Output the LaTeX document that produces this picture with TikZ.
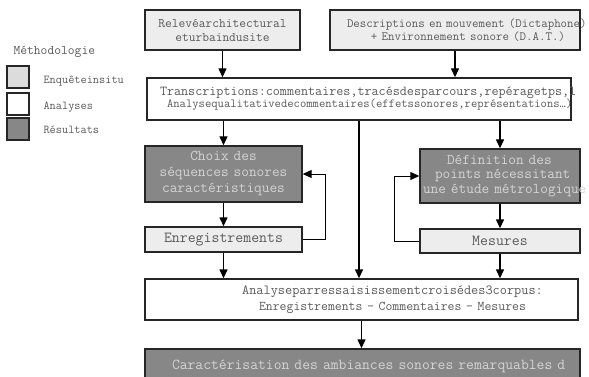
\documentclass[tikz,border=0pt]{standalone}
\usetikzlibrary{arrows.meta}

\definecolor{enquete}{HTML}{EDEDED}
\definecolor{legende}{HTML}{DCDCDC}
\definecolor{resultat}{HTML}{878787}
\definecolor{encre}{HTML}{5A5A5A}
\definecolor{pale}{HTML}{D4D4D4}

\begin{document}
\begin{tikzpicture}[x = 1pt, y = -1pt,
	boite/.style = {draw = black!85, line width = 1.4pt, inner sep = 3pt,
					align = center, text = encre},
	enq/.style = {boite, fill = enquete},
	ana/.style = {boite, fill = white},
	res/.style = {boite, fill = resultat, text = pale},
	mono/.style = {font = \fontsize{#1}{#1}\selectfont\ttfamily},
	fleche/.style = {-{Triangle[length = 9pt, width = 8pt]}, line width = 1.4pt},
	retour/.style = {fleche, line width = 1pt}]

\useasboundingbox (0, 0) rectangle (589, 377);
\clip (0, 0) rectangle (589, 377);

% legende
\node[anchor = west, text = encre, mono = 13.2] (titre) at (10, 52) {Méthodologie};
\node[boite, fill = legende, minimum width = 22, minimum height = 22] (lenq) at (18, 77) {};
\node[boite, fill = white, minimum width = 22, minimum height = 22] (lana) at (18, 104) {};
\node[boite, fill = resultat, minimum width = 22, minimum height = 22] (lres) at (18, 129) {};
\node[anchor = west, text = encre, mono = 12] (tenq) at (40, 81) {Enquêteinsitu};
\node[anchor = west, text = encre, mono = 12] (tana) at (40, 107) {Analyses};
\node[anchor = west, text = encre, mono = 12] (tres) at (40, 130) {Résultats};

% boites
\node[enq, text width = 149, minimum height = 40, font = \fontsize{13.1}{14}\selectfont\ttfamily]
	(releve) at (222.5, 30) {Relevéarchitectural\\eturbaindusite};
\node[enq, text width = 244, minimum height = 40, font = \fontsize{12.6}{13.5}\selectfont\ttfamily]
	(descr) at (455, 30) {\hspace*{14pt}\mbox{Descriptions en mouvement (Dictaphone)}\\
						  \hspace*{26pt}+ Environnement sonore (D.A.T.)};
\node[ana, align = left, text width = 418, minimum height = 42, font = \fontsize{13.7}{12}\selectfont\ttfamily]
	(trans) at (359, 99) {\hspace*{10pt}\mbox{Transcriptions:commentaires,tracésdesparcours,repéragetps,l}\\
						  \hspace*{17pt}\mbox{\fontsize{12.3}{12}\selectfont Analysequalitativedecommentaires(effetssonores,représentations…)}};

\node[res, text width = 151, minimum height = 56, font = \fontsize{14.9}{16}\selectfont\ttfamily]
	(choix) at (223.5, 174) {Choix des\\séquences sonores\\caractéristiques};
\node[enq, text width = 151, minimum height = 25, font = \fontsize{15.4}{15}\selectfont\ttfamily]
	(enreg) at (223.5, 239.5) {Enregistrements};
\node[res, align = left, text width = 154, minimum height = 54, font = \fontsize{14.9}{14.5}\selectfont\ttfamily]
	(defin) at (500, 176) {\hspace*{24pt}Définition des\\
						   \hspace*{12pt}\mbox{points nécessitant}\\
						   \mbox{une étude métrologique}};
\node[enq, text width = 154, minimum height = 24, font = \fontsize{15.4}{15}\selectfont\ttfamily]
	(mesures) at (500, 241) {Mesures};

\node[ana, text width = 427, minimum height = 41, font = \fontsize{13.9}{16}\selectfont\ttfamily]
	(analyse) at (361.5, 299.5) {\hspace*{62pt}Analyseparressaisissementcroisédes3corpus:\\
								 \hspace*{62pt}\fontsize{13.4}{16}\selectfont Enregistrements - Commentaires - Mesures};
\node[res, align = left, text width = 429, minimum height = 34, font = \fontsize{15.2}{15}\selectfont\ttfamily]
	(caract) at (362.5, 366) {\hspace*{24pt}\mbox{Caractérisation des ambiances sonores remarquables d}};

% fleches
\draw[fleche] (releve.south) -- (releve.south |- trans.north);
\draw[fleche] (descr.south) -- (descr.south |- trans.north);
\draw[fleche] (choix.north |- trans.south) -- (choix.north);
\draw[fleche] (defin.north |- trans.south) -- (defin.north);
\draw[fleche] (trans.south) -- (trans.south |- analyse.north);
\draw[fleche] (choix.south) -- (enreg.north);
\draw[fleche] (defin.south) -- (mesures.north);
\draw[fleche] (enreg.south) -- (enreg.south |- analyse.north);
\draw[fleche] (mesures.south) -- (mesures.south |- analyse.north);
\draw[fleche] (analyse.south) -- (analyse.south |- caract.north);
\draw[retour] (enreg.east) -- ++(23, 0) |- (choix.east);
\draw[retour] (mesures.west) -- ++(-25, 0) |- (defin.west);
\end{tikzpicture}
\end{document}
